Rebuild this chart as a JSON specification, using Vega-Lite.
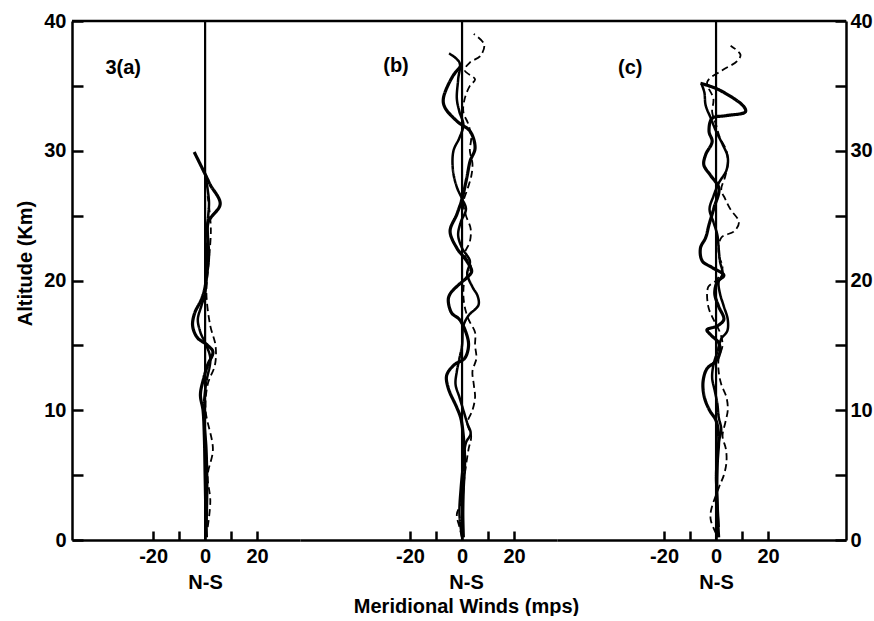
{
  "$schema": "https://vega.github.io/schema/vega-lite/v6.json",
  "autosize": {"type": "pad"},
  "padding": {"left": 15, "top": 11, "right": 0, "bottom": 0},
  "background": "white",
  "spacing": 0,
  "bounds": "flush",
  "config": {
    "view": {"stroke": null},
    "font": "Liberation Sans",
    "axis": {
      "domainColor": "black", "domainWidth": 2.5, "tickColor": "black", "tickWidth": 2.5,
      "labelColor": "black", "labelFont": "Liberation Sans", "labelFontSize": 20, "labelFontWeight": "bold",
      "titleColor": "black", "titleFont": "Liberation Sans", "titleFontSize": 20, "titleFontWeight": "bold",
      "grid": false, "labelFlush": false, "labelOverlap": false
    }
  },
  "datasets": {
    "profiles": [
      {"p":"a","s":"thick","alt":29.9,"v":-4.2},{"p":"a","s":"thick","alt":28.2,"v":0},{"p":"a","s":"thick","alt":27.4,"v":1.9},{"p":"a","s":"thick","alt":25.9,"v":5.8},{"p":"a","s":"thick","alt":24.5,"v":1.2},{"p":"a","s":"thick","alt":23,"v":1},{"p":"a","s":"thick","alt":21,"v":0.5},{"p":"a","s":"thick","alt":19.5,"v":0},{"p":"a","s":"thick","alt":18.5,"v":-1.5},{"p":"a","s":"thick","alt":17.5,"v":-4},{"p":"a","s":"thick","alt":16.5,"v":-4.8},{"p":"a","s":"thick","alt":15.6,"v":-3},{"p":"a","s":"thick","alt":15,"v":1},{"p":"a","s":"thick","alt":14.5,"v":3},{"p":"a","s":"thick","alt":13.5,"v":1},{"p":"a","s":"thick","alt":12.5,"v":-0.5},{"p":"a","s":"thick","alt":11.2,"v":-1.8},{"p":"a","s":"thick","alt":10,"v":-0.8},{"p":"a","s":"thick","alt":8,"v":-0.3},{"p":"a","s":"thick","alt":5,"v":0},{"p":"a","s":"thick","alt":2,"v":0.3},{"p":"a","s":"thick","alt":0.2,"v":0.5},
      {"p":"a","s":"thin","alt":28.2,"v":0},{"p":"a","s":"thin","alt":27,"v":1},{"p":"a","s":"thin","alt":26,"v":1.5},{"p":"a","s":"thin","alt":25,"v":1.2},{"p":"a","s":"thin","alt":24,"v":0.8},{"p":"a","s":"thin","alt":22,"v":1.5},{"p":"a","s":"thin","alt":20,"v":0.5},{"p":"a","s":"thin","alt":19,"v":0},{"p":"a","s":"thin","alt":18,"v":-1.5},{"p":"a","s":"thin","alt":17,"v":-2.8},{"p":"a","s":"thin","alt":16,"v":-1.8},{"p":"a","s":"thin","alt":15.2,"v":0},{"p":"a","s":"thin","alt":14,"v":2},{"p":"a","s":"thin","alt":12,"v":0.3},{"p":"a","s":"thin","alt":10,"v":-0.5},{"p":"a","s":"thin","alt":7,"v":0.5},{"p":"a","s":"thin","alt":4,"v":0.8},{"p":"a","s":"thin","alt":1,"v":0.5},
      {"p":"a","s":"dashed","alt":26.5,"v":1},{"p":"a","s":"dashed","alt":24,"v":2.2},{"p":"a","s":"dashed","alt":21,"v":1.2},{"p":"a","s":"dashed","alt":19,"v":0.5},{"p":"a","s":"dashed","alt":16.5,"v":2},{"p":"a","s":"dashed","alt":15,"v":4},{"p":"a","s":"dashed","alt":13.5,"v":3.8},{"p":"a","s":"dashed","alt":12,"v":1},{"p":"a","s":"dashed","alt":10,"v":0.2},{"p":"a","s":"dashed","alt":7,"v":3},{"p":"a","s":"dashed","alt":5,"v":1},{"p":"a","s":"dashed","alt":3,"v":2},{"p":"a","s":"dashed","alt":1,"v":1},
      {"p":"b","s":"thick","alt":36.6,"v":0},{"p":"b","s":"thick","alt":35.8,"v":-3.4},{"p":"b","s":"thick","alt":34,"v":-7.2},{"p":"b","s":"thick","alt":33.3,"v":-6.5},{"p":"b","s":"thick","alt":32.2,"v":-1.5},{"p":"b","s":"thick","alt":31.5,"v":3.1},{"p":"b","s":"thick","alt":30.2,"v":5},{"p":"b","s":"thick","alt":29.2,"v":3.1},{"p":"b","s":"thick","alt":27.9,"v":1.8},{"p":"b","s":"thick","alt":26.3,"v":0},{"p":"b","s":"thick","alt":25.1,"v":-2},{"p":"b","s":"thick","alt":23.8,"v":-4.6},{"p":"b","s":"thick","alt":22.5,"v":-2},{"p":"b","s":"thick","alt":21.5,"v":1.8},{"p":"b","s":"thick","alt":20.7,"v":3.7},{"p":"b","s":"thick","alt":20.2,"v":1.8},{"p":"b","s":"thick","alt":19.9,"v":0},{"p":"b","s":"thick","alt":19,"v":-4.5},{"p":"b","s":"thick","alt":18.5,"v":-5.3},{"p":"b","s":"thick","alt":17.5,"v":-4},{"p":"b","s":"thick","alt":17,"v":-1},{"p":"b","s":"thick","alt":16,"v":1.5},{"p":"b","s":"thick","alt":15,"v":2.5},{"p":"b","s":"thick","alt":14,"v":1},{"p":"b","s":"thick","alt":13.5,"v":-3},{"p":"b","s":"thick","alt":12.7,"v":-5.9},{"p":"b","s":"thick","alt":11.7,"v":-5.3},{"p":"b","s":"thick","alt":10.2,"v":-2},{"p":"b","s":"thick","alt":9.4,"v":-0.5},{"p":"b","s":"thick","alt":8,"v":0.5},{"p":"b","s":"thick","alt":6,"v":1},{"p":"b","s":"thick","alt":4,"v":0.5},{"p":"b","s":"thick","alt":2,"v":0.3},{"p":"b","s":"thick","alt":0.2,"v":0.5},
      {"p":"b","s":"thin","alt":37.5,"v":-5},{"p":"b","s":"thin","alt":36.8,"v":-1},{"p":"b","s":"thin","alt":35.5,"v":-1.5},{"p":"b","s":"thin","alt":34,"v":-2},{"p":"b","s":"thin","alt":33,"v":-1},{"p":"b","s":"thin","alt":32,"v":0.5},{"p":"b","s":"thin","alt":31,"v":-1},{"p":"b","s":"thin","alt":30,"v":-3.3},{"p":"b","s":"thin","alt":28.5,"v":-3.5},{"p":"b","s":"thin","alt":27.2,"v":-2},{"p":"b","s":"thin","alt":26.3,"v":0},{"p":"b","s":"thin","alt":25.5,"v":1.5},{"p":"b","s":"thin","alt":24.5,"v":-0.5},{"p":"b","s":"thin","alt":23.5,"v":-1.5},{"p":"b","s":"thin","alt":22.5,"v":0},{"p":"b","s":"thin","alt":21.5,"v":3},{"p":"b","s":"thin","alt":20.5,"v":2},{"p":"b","s":"thin","alt":19.5,"v":4},{"p":"b","s":"thin","alt":18.8,"v":6},{"p":"b","s":"thin","alt":18.1,"v":6.3},{"p":"b","s":"thin","alt":17.3,"v":2.5},{"p":"b","s":"thin","alt":16.5,"v":0.5},{"p":"b","s":"thin","alt":15,"v":0},{"p":"b","s":"thin","alt":14,"v":-1},{"p":"b","s":"thin","alt":13,"v":-2},{"p":"b","s":"thin","alt":12,"v":-2.5},{"p":"b","s":"thin","alt":11,"v":-1},{"p":"b","s":"thin","alt":10,"v":0.5},{"p":"b","s":"thin","alt":9,"v":2},{"p":"b","s":"thin","alt":8.2,"v":3.3},{"p":"b","s":"thin","alt":7.5,"v":1.5},{"p":"b","s":"thin","alt":6,"v":0.5},{"p":"b","s":"thin","alt":4,"v":-0.5},{"p":"b","s":"thin","alt":2,"v":-1},{"p":"b","s":"thin","alt":0.2,"v":0},
      {"p":"b","s":"dashed","alt":39,"v":4.5},{"p":"b","s":"dashed","alt":38.2,"v":8.5},{"p":"b","s":"dashed","alt":37.3,"v":7},{"p":"b","s":"dashed","alt":36.8,"v":3},{"p":"b","s":"dashed","alt":36.2,"v":1},{"p":"b","s":"dashed","alt":35.5,"v":5},{"p":"b","s":"dashed","alt":35,"v":3},{"p":"b","s":"dashed","alt":34,"v":1},{"p":"b","s":"dashed","alt":33,"v":0.5},{"p":"b","s":"dashed","alt":32,"v":2.5},{"p":"b","s":"dashed","alt":31,"v":3.5},{"p":"b","s":"dashed","alt":30,"v":3},{"p":"b","s":"dashed","alt":29,"v":4},{"p":"b","s":"dashed","alt":28,"v":3.5},{"p":"b","s":"dashed","alt":27,"v":2},{"p":"b","s":"dashed","alt":26,"v":0.5},{"p":"b","s":"dashed","alt":25,"v":1.5},{"p":"b","s":"dashed","alt":24,"v":3.3},{"p":"b","s":"dashed","alt":23,"v":3},{"p":"b","s":"dashed","alt":22,"v":1},{"p":"b","s":"dashed","alt":21,"v":3.5},{"p":"b","s":"dashed","alt":20,"v":1},{"p":"b","s":"dashed","alt":19,"v":0.5},{"p":"b","s":"dashed","alt":18,"v":1},{"p":"b","s":"dashed","alt":17,"v":2.5},{"p":"b","s":"dashed","alt":16,"v":5},{"p":"b","s":"dashed","alt":15,"v":5},{"p":"b","s":"dashed","alt":14,"v":5.5},{"p":"b","s":"dashed","alt":13,"v":4},{"p":"b","s":"dashed","alt":12,"v":4.5},{"p":"b","s":"dashed","alt":11,"v":5},{"p":"b","s":"dashed","alt":10,"v":4},{"p":"b","s":"dashed","alt":9,"v":2},{"p":"b","s":"dashed","alt":8,"v":3.5},{"p":"b","s":"dashed","alt":7,"v":2.5},{"p":"b","s":"dashed","alt":5,"v":1},{"p":"b","s":"dashed","alt":3,"v":0},{"p":"b","s":"dashed","alt":2,"v":-2},{"p":"b","s":"dashed","alt":1,"v":-1},{"p":"b","s":"dashed","alt":0.2,"v":0},
      {"p":"c","s":"thick","alt":35.2,"v":-6},{"p":"c","s":"thick","alt":34.7,"v":1.1},{"p":"c","s":"thick","alt":33.4,"v":10.7},{"p":"c","s":"thick","alt":33,"v":11.3},{"p":"c","s":"thick","alt":32.7,"v":3.7},{"p":"c","s":"thick","alt":32.5,"v":-1.5},{"p":"c","s":"thick","alt":31.5,"v":-2.7},{"p":"c","s":"thick","alt":30.7,"v":-1.5},{"p":"c","s":"thick","alt":29.7,"v":-4},{"p":"c","s":"thick","alt":28.9,"v":-4.7},{"p":"c","s":"thick","alt":28.1,"v":-2.1},{"p":"c","s":"thick","alt":27.1,"v":1.1},{"p":"c","s":"thick","alt":25.6,"v":-0.8},{"p":"c","s":"thick","alt":24.3,"v":-2.7},{"p":"c","s":"thick","alt":23.3,"v":-4},{"p":"c","s":"thick","alt":22.5,"v":-6},{"p":"c","s":"thick","alt":21.5,"v":-5.3},{"p":"c","s":"thick","alt":21,"v":-1.5},{"p":"c","s":"thick","alt":20.4,"v":3},{"p":"c","s":"thick","alt":19.9,"v":0.5},{"p":"c","s":"thick","alt":19,"v":-0.5},{"p":"c","s":"thick","alt":18,"v":1},{"p":"c","s":"thick","alt":17,"v":3},{"p":"c","s":"thick","alt":16.5,"v":0.5},{"p":"c","s":"thick","alt":16.2,"v":-3.5},{"p":"c","s":"thick","alt":15.8,"v":-2},{"p":"c","s":"thick","alt":15.2,"v":1},{"p":"c","s":"thick","alt":14.5,"v":1.5},{"p":"c","s":"thick","alt":13.8,"v":0},{"p":"c","s":"thick","alt":13.2,"v":-3.5},{"p":"c","s":"thick","alt":12.2,"v":-5},{"p":"c","s":"thick","alt":11,"v":-4.5},{"p":"c","s":"thick","alt":10,"v":-2.5},{"p":"c","s":"thick","alt":9.2,"v":0},{"p":"c","s":"thick","alt":8,"v":1},{"p":"c","s":"thick","alt":6,"v":0.5},{"p":"c","s":"thick","alt":4,"v":0.3},{"p":"c","s":"thick","alt":2,"v":0.5},{"p":"c","s":"thick","alt":0.2,"v":1},
      {"p":"c","s":"thin","alt":35.1,"v":-5.5},{"p":"c","s":"thin","alt":34.5,"v":-4.5},{"p":"c","s":"thin","alt":33.5,"v":-4},{"p":"c","s":"thin","alt":32.5,"v":-2},{"p":"c","s":"thin","alt":31.5,"v":0},{"p":"c","s":"thin","alt":30.5,"v":2.5},{"p":"c","s":"thin","alt":29.5,"v":4.5},{"p":"c","s":"thin","alt":28.5,"v":4},{"p":"c","s":"thin","alt":27.5,"v":1},{"p":"c","s":"thin","alt":26.5,"v":-1},{"p":"c","s":"thin","alt":25.5,"v":-2.5},{"p":"c","s":"thin","alt":24.5,"v":-1},{"p":"c","s":"thin","alt":23.5,"v":0.5},{"p":"c","s":"thin","alt":22.5,"v":1},{"p":"c","s":"thin","alt":21.5,"v":1.5},{"p":"c","s":"thin","alt":20.5,"v":2.5},{"p":"c","s":"thin","alt":19.9,"v":1},{"p":"c","s":"thin","alt":19,"v":1.5},{"p":"c","s":"thin","alt":18,"v":3},{"p":"c","s":"thin","alt":17,"v":4.5},{"p":"c","s":"thin","alt":16.1,"v":4.3},{"p":"c","s":"thin","alt":15.5,"v":2},{"p":"c","s":"thin","alt":14.5,"v":0.5},{"p":"c","s":"thin","alt":13.5,"v":-1},{"p":"c","s":"thin","alt":12.5,"v":-1.5},{"p":"c","s":"thin","alt":11.5,"v":-0.5},{"p":"c","s":"thin","alt":10.5,"v":0.5},{"p":"c","s":"thin","alt":9.5,"v":1},{"p":"c","s":"thin","alt":8.5,"v":2},{"p":"c","s":"thin","alt":7.5,"v":1},{"p":"c","s":"thin","alt":5,"v":0},{"p":"c","s":"thin","alt":3,"v":0.5},{"p":"c","s":"thin","alt":1,"v":1},
      {"p":"c","s":"dashed","alt":38.1,"v":5.6},{"p":"c","s":"dashed","alt":37.4,"v":9.4},{"p":"c","s":"dashed","alt":36.9,"v":8.1},{"p":"c","s":"dashed","alt":36.2,"v":2.4},{"p":"c","s":"dashed","alt":35.3,"v":-3.4},{"p":"c","s":"dashed","alt":34,"v":-1},{"p":"c","s":"dashed","alt":33,"v":-1.5},{"p":"c","s":"dashed","alt":32,"v":0},{"p":"c","s":"dashed","alt":31,"v":1.5},{"p":"c","s":"dashed","alt":30,"v":4},{"p":"c","s":"dashed","alt":29,"v":4.5},{"p":"c","s":"dashed","alt":28,"v":3.5},{"p":"c","s":"dashed","alt":27,"v":2},{"p":"c","s":"dashed","alt":26.3,"v":3.5},{"p":"c","s":"dashed","alt":25.5,"v":5.5},{"p":"c","s":"dashed","alt":24.5,"v":8.8},{"p":"c","s":"dashed","alt":23.8,"v":7},{"p":"c","s":"dashed","alt":23.3,"v":2},{"p":"c","s":"dashed","alt":22,"v":1},{"p":"c","s":"dashed","alt":21,"v":2.5},{"p":"c","s":"dashed","alt":20,"v":0},{"p":"c","s":"dashed","alt":19.5,"v":-3},{"p":"c","s":"dashed","alt":18,"v":-3},{"p":"c","s":"dashed","alt":17,"v":-1},{"p":"c","s":"dashed","alt":16,"v":1.5},{"p":"c","s":"dashed","alt":15,"v":2.5},{"p":"c","s":"dashed","alt":14,"v":1},{"p":"c","s":"dashed","alt":13,"v":1},{"p":"c","s":"dashed","alt":12,"v":2},{"p":"c","s":"dashed","alt":11,"v":4},{"p":"c","s":"dashed","alt":10,"v":4.5},{"p":"c","s":"dashed","alt":9,"v":3.5},{"p":"c","s":"dashed","alt":8,"v":2.5},{"p":"c","s":"dashed","alt":7,"v":3.8},{"p":"c","s":"dashed","alt":6,"v":4},{"p":"c","s":"dashed","alt":5,"v":3},{"p":"c","s":"dashed","alt":4,"v":1},{"p":"c","s":"dashed","alt":2.2,"v":-2},{"p":"c","s":"dashed","alt":1.5,"v":-2},{"p":"c","s":"dashed","alt":0.5,"v":0}
    ],
    "labels": [
      {"p":"a","t":"3(a)","alt":36.4,"v":-31.5},
      {"p":"b","t":"(b)","alt":36.5,"v":-25.4},
      {"p":"c","t":"(c)","alt":36.4,"v":-33}
    ],
    "one": [{}]
  },
  "hconcat": [
    {
      "width": 228, "height": 519,
      "layer": [
        {
          "data": {"name": "profiles"},
          "transform": [{"filter": "datum.p == 'a'"}],
          "mark": {"type": "line", "color": "black", "interpolate": "catmull-rom"},
          "encoding": {
            "x": {"field": "v", "type": "quantitative", "scale": {"domain": [-51.2, 36.5], "nice": false, "zero": false},
                  "axis": {"values": [-20, -10, 0, 10, 20], "labelExpr": "datum.value == -20 ? '-20' : datum.value == 20 ? '20' : datum.value == 0 ? '0' : ''", "tickSize": -9, "labelPadding": 15, "title": "N-S", "titleX": 133, "titleAlign": "center", "titlePadding": 6}},
            "y": {"field": "alt", "type": "quantitative", "scale": {"domain": [0, 40], "nice": false},
                  "axis": {"orient": "left", "values": [0, 5, 10, 15, 20, 25, 30, 35, 40], "labelExpr": "datum.value % 10 == 0 ? datum.label : ''", "tickSize": -11, "labelPadding": 17, "title": "Altitude (Km)", "titlePadding": 8, "titleY": 242}},
            "detail": {"field": "s"},
            "order": {"field": "alt"},
            "strokeDash": {"field": "s", "type": "nominal", "scale": {"domain": ["thick", "thin", "dashed"], "range": [[1, 0], [1, 0], [7, 4]]}, "legend": null},
            "strokeWidth": {"field": "s", "type": "nominal", "scale": {"domain": ["thick", "thin", "dashed"], "range": [3.2, 1.8, 2.2]}, "legend": null}
          }
        },
        {"data": {"name": "one"}, "mark": {"type": "rule", "color": "black", "strokeWidth": 2.5}, "encoding": {"y": {"datum": 40}}},
        {"data": {"name": "one"}, "mark": {"type": "rule", "color": "black", "strokeWidth": 2.2}, "encoding": {"x": {"datum": 0}}},
        {
          "data": {"name": "labels"},
          "transform": [{"filter": "datum.p == 'a'"}],
          "mark": {"type": "text", "font": "Liberation Sans", "fontSize": 20, "fontWeight": "bold", "color": "black"},
          "encoding": {"x": {"field": "v", "type": "quantitative"}, "y": {"field": "alt", "type": "quantitative"}, "text": {"field": "t"}}
        }
      ]
    },
    {
      "width": 257, "height": 519,
      "layer": [
        {
          "data": {"name": "profiles"},
          "transform": [{"filter": "datum.p == 'b'"}],
          "mark": {"type": "line", "color": "black", "interpolate": "catmull-rom"},
          "encoding": {
            "x": {"field": "v", "type": "quantitative", "scale": {"domain": [-62.3, 36.5], "nice": false, "zero": false},
                  "axis": {"values": [-20, -10, 0, 10, 20], "labelExpr": "datum.value == -20 ? '-20' : datum.value == 20 ? '20' : datum.value == 0 ? '0' : ''", "tickSize": -9, "labelPadding": 15, "title": ["N-S", "Meridional Winds (mps)"], "titleX": 166, "titleAlign": "center", "titlePadding": 6, "titleLineHeight": 24}},
            "y": {"field": "alt", "type": "quantitative", "scale": {"domain": [0, 40], "nice": false}, "axis": null},
            "detail": {"field": "s"},
            "order": {"field": "alt"},
            "strokeDash": {"field": "s", "type": "nominal", "scale": {"domain": ["thick", "thin", "dashed"], "range": [[1, 0], [1, 0], [7, 4]]}, "legend": null},
            "strokeWidth": {"field": "s", "type": "nominal", "scale": {"domain": ["thick", "thin", "dashed"], "range": [3.2, 1.8, 2.2]}, "legend": null}
          }
        },
        {"data": {"name": "one"}, "mark": {"type": "rule", "color": "black", "strokeWidth": 2.5}, "encoding": {"y": {"datum": 40}}},
        {"data": {"name": "one"}, "mark": {"type": "rule", "color": "black", "strokeWidth": 2.2}, "encoding": {"x": {"datum": 0}}},
        {
          "data": {"name": "labels"},
          "transform": [{"filter": "datum.p == 'b'"}],
          "mark": {"type": "text", "font": "Liberation Sans", "fontSize": 20, "fontWeight": "bold", "color": "black"},
          "encoding": {"x": {"field": "v", "type": "quantitative"}, "y": {"field": "alt", "type": "quantitative"}, "text": {"field": "t"}}
        }
      ]
    },
    {
      "width": 289, "height": 519,
      "layer": [
        {
          "data": {"name": "profiles"},
          "transform": [{"filter": "datum.p == 'c'"}],
          "mark": {"type": "line", "color": "black", "interpolate": "catmull-rom"},
          "encoding": {
            "x": {"field": "v", "type": "quantitative", "scale": {"domain": [-61.2, 50], "nice": false, "zero": false},
                  "axis": {"values": [-20, -10, 0, 10, 20], "labelExpr": "datum.value == -20 ? '-20' : datum.value == 20 ? '20' : datum.value == 0 ? '0' : ''", "tickSize": -9, "labelPadding": 15, "title": "N-S", "titleX": 159, "titleAlign": "center", "titlePadding": 6}},
            "y": {"field": "alt", "type": "quantitative", "scale": {"domain": [0, 40], "nice": false},
                  "axis": {"orient": "right", "values": [0, 5, 10, 15, 20, 25, 30, 35, 40], "labelExpr": "datum.value % 10 == 0 ? datum.label : ''", "tickSize": -11, "labelPadding": 15, "title": null}},
            "detail": {"field": "s"},
            "order": {"field": "alt"},
            "strokeDash": {"field": "s", "type": "nominal", "scale": {"domain": ["thick", "thin", "dashed"], "range": [[1, 0], [1, 0], [7, 4]]}, "legend": null},
            "strokeWidth": {"field": "s", "type": "nominal", "scale": {"domain": ["thick", "thin", "dashed"], "range": [3.2, 1.8, 2.2]}, "legend": null}
          }
        },
        {"data": {"name": "one"}, "mark": {"type": "rule", "color": "black", "strokeWidth": 2.5}, "encoding": {"y": {"datum": 40}}},
        {"data": {"name": "one"}, "mark": {"type": "rule", "color": "black", "strokeWidth": 2.2}, "encoding": {"x": {"datum": 0}}},
        {
          "data": {"name": "labels"},
          "transform": [{"filter": "datum.p == 'c'"}],
          "mark": {"type": "text", "font": "Liberation Sans", "fontSize": 20, "fontWeight": "bold", "color": "black"},
          "encoding": {"x": {"field": "v", "type": "quantitative"}, "y": {"field": "alt", "type": "quantitative"}, "text": {"field": "t"}}
        }
      ]
    }
  ]
}
